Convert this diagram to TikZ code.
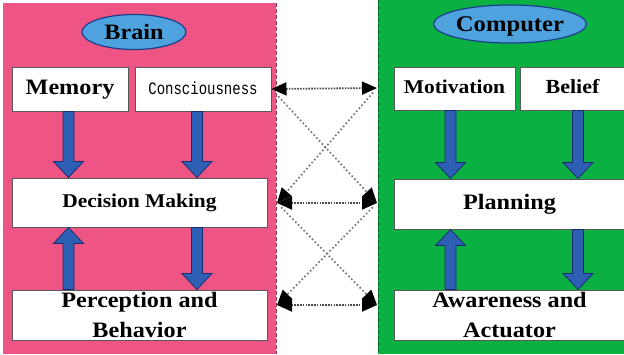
\documentclass[tikz,border=0pt]{standalone}
\usepackage{fontspec}
\setmainfont{Liberation Serif}
\newfontfamily\lblfont[FakeStretch=1.1]{Liberation Serif}
\newfontfamily\consfont[FakeStretch=0.8]{Liberation Mono}
\usetikzlibrary{arrows.meta,calc,shapes.geometric}

\definecolor{panelpink}{RGB}{238,84,132}
\definecolor{panelgreen}{RGB}{10,176,66}
\definecolor{ovalblue}{RGB}{78,162,222}
\definecolor{ovalline}{RGB}{30,62,140}
\definecolor{arrowblue}{RGB}{45,95,180}
\definecolor{arrowline}{RGB}{25,45,110}

\tikzset{
  box/.style={draw=black!65, line width=1pt, fill=white, inner sep=0pt,
    text height=15pt, text depth=5pt},
  lbl/.style={font=\lblfont\bfseries\fontsize{22}{30}\selectfont},
  oval/.style={ellipse, draw=ovalline, line width=1.2pt, fill=ovalblue, inner sep=0pt,
    text height=14pt, text depth=0pt, font=\lblfont\bfseries\fontsize{22}{26}\selectfont},
  blockarr/.style={fill=arrowblue, draw=arrowline, line width=0.8pt, line join=miter},
  linktip/.tip={Triangle[length=15pt,width=13pt,color=black,fill=black]},
  hdot/.style={draw=black!70, line width=1.8pt, dash pattern=on 1.6pt off 1.2pt,
    linktip-linktip},
  xdot/.style={draw=black!55, line width=1.7pt, dash pattern=on 1.6pt off 2.4pt,
    -linktip, shorten <=6pt}
}

% vertical block arrow from #1 to #2 (tip at #2)
\newcommand\blockarrow[2]{%
  \draw[blockarr] let \p1=(#1), \p2=(#2), \n1={sign(\y2-\y1)} in
    (\x1-5.5pt,\y1) -- (\x1-5.5pt,{\y2-(\n1)*16pt}) -- (\x1-15pt,{\y2-(\n1)*16pt})
    -- (\x1,\y2) -- (\x1+15pt,{\y2-(\n1)*16pt}) -- (\x1+5.5pt,{\y2-(\n1)*16pt})
    -- (\x1+5.5pt,\y1) -- cycle;}

\begin{document}
\begin{tikzpicture}[x=1pt,y=-1pt]
\useasboundingbox (0,0) rectangle (624,354);

% the two panels
\fill[panelpink] (3,3) rectangle (276,354);
\fill[panelgreen] (378,0) rectangle (624,354);
\draw[panelpink!60!black, line width=1pt, dash pattern=on 4pt off 2pt] (276,3) -- (276,354);
\draw[panelgreen!55!black, line width=1pt, dash pattern=on 4pt off 2pt] (378,0) -- (378,354);

% titles
\node[oval, minimum width=104pt, minimum height=35pt] (brain) at (134,32) {Brain};
\node[oval, minimum width=142pt, minimum height=38pt,
  font=\lblfont\bfseries\fontsize{22.4}{26}\selectfont] (computer) at (510,24) {Computer};

% brain side
\node[box, lbl, minimum width=116pt, minimum height=44pt] (mem) at (70,89) {Memory};
\node[box, minimum width=136pt, minimum height=44pt,
  font=\consfont\fontsize{17.5}{20}\selectfont] (con) at (203,89) {Consciousness};
\node[box, lbl, minimum width=255pt, minimum height=49pt,
  font=\lblfont\bfseries\fontsize{19.5}{24}\selectfont] (dm) at (139.5,202.5) {Decision Making};
\node[box, minimum width=255pt, minimum height=50pt, text height=, text depth=] (pb) at (139.5,315) {};
\node[lbl, align=center, inner sep=0pt] (pbtext) at (pb.center) {Perception and\\Behavior};

% computer side
\node[box, lbl, minimum width=121pt, minimum height=43pt,
  font=\lblfont\bfseries\fontsize{19.5}{24}\selectfont] (mot) at (454.5,88.5) {Motivation};
\node[box, lbl, minimum width=105pt, minimum height=43pt,
  font=\lblfont\bfseries\fontsize{20}{24}\selectfont] (bel) at (572.5,88.5) {Belief};
\node[box, lbl, minimum width=231pt, minimum height=50pt] (plan) at (509.5,204) {Planning};
\node[box, minimum width=231pt, minimum height=50pt, text height=, text depth=] (aa) at (509.5,315) {};
\node[lbl, align=center, inner sep=0pt] (aatext) at (aa.center) {Awareness and\\Actuator};

% arrow columns
\coordinate (colA) at (68.5,0);
\coordinate (colB) at (197,0);
\coordinate (colC) at (450.5,0);
\coordinate (colD) at (578,0);

\blockarrow{mem.south -| colA}{dm.north -| colA}
\blockarrow{con.south -| colB}{dm.north -| colB}
\blockarrow{pb.north -| colA}{dm.south -| colA}
\blockarrow{dm.south -| colB}{pb.north -| colB}

\blockarrow{mot.south -| colC}{plan.north -| colC}
\blockarrow{bel.south -| colD}{plan.north -| colD}
\blockarrow{aa.north -| colC}{plan.south -| colC}
\blockarrow{plan.south -| colD}{aa.north -| colD}

% links between the two sides
\coordinate (l2) at (277,203);
\coordinate (l3) at (277,305);
\coordinate (r1) at (377,88);
\coordinate (r2) at (377,203);
\coordinate (r3) at (377,305);

\draw[xdot] (con.east) -- (r2);
\draw[xdot] (r1) -- (l2);
\draw[xdot] (l2) -- (r3);
\draw[xdot] (r2) -- (l3);

\draw[hdot] (con.east) -- (r1);
\draw[hdot] (l2) -- (r2);
\draw[hdot] (l3) -- (r3);
\end{tikzpicture}
\end{document}
